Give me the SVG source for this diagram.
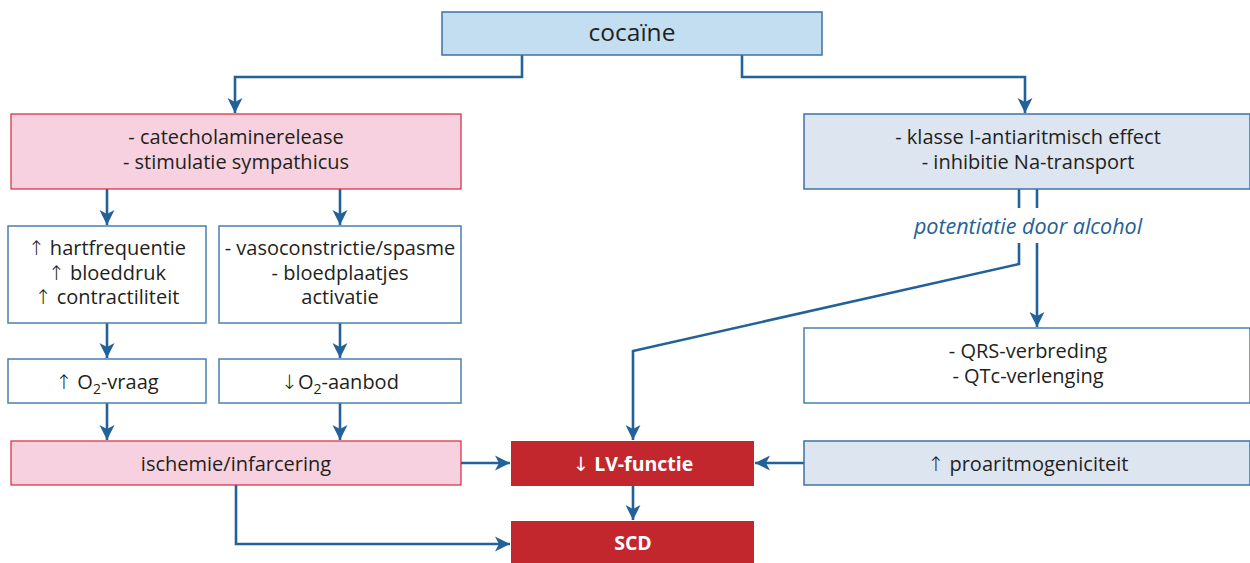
<svg xmlns="http://www.w3.org/2000/svg" width="1250" height="563" viewBox="0 0 1250 563">
<style>
text{font-family:"Open Sans","Noto Sans","Liberation Sans",sans-serif;font-size:20px;fill:#231f20;text-anchor:middle}
.ar{font-family:"DejaVu Sans",sans-serif;font-weight:200}
.arb{font-family:"DejaVu Sans",sans-serif;font-weight:normal}
.big{font-size:24.5px}
.blue{fill:#c3ddf1;stroke:#3f72a3;stroke-width:1.5}
.pale{fill:#dde5f1;stroke:#3f72a3;stroke-width:1.5}
.white{fill:#ffffff;stroke:#4a7fb0;stroke-width:1.5}
.pink{fill:#f7d1df;stroke:#d2283a;stroke-width:1.2}
.red{fill:#c1272d;stroke:none}
.wt{fill:#ffffff;font-weight:bold;font-size:19.5px}
.conn{fill:none;stroke:#236199;stroke-width:2.6}
.lab{fill:#236199;font-style:italic;font-size:21.5px}
.sub{font-size:14px}
</style>
<defs>
<marker id="ah" viewBox="-15 -8 16 16" refX="0" refY="0" markerWidth="16" markerHeight="16" markerUnits="userSpaceOnUse" orient="auto">
<path d="M0,0 L-15,-7.5 L-11,0 L-15,7.5 z" fill="#236199"/>
</marker>
</defs>
<g id="connectors">
<path class="conn" d="M522,55 V77 H235 V113" marker-end="url(#ah)"/>
<path class="conn" d="M742,55 V77 H1025 V113" marker-end="url(#ah)"/>
<path class="conn" d="M107,189 V225" marker-end="url(#ah)"/>
<path class="conn" d="M340,189 V225" marker-end="url(#ah)"/>
<path class="conn" d="M107,323 V358" marker-end="url(#ah)"/>
<path class="conn" d="M340,323 V358" marker-end="url(#ah)"/>
<path class="conn" d="M107,403 V440" marker-end="url(#ah)"/>
<path class="conn" d="M340,403 V440" marker-end="url(#ah)"/>
<path class="conn" d="M461,463 H510" marker-end="url(#ah)"/>
<path class="conn" d="M804,463 H755" marker-end="url(#ah)"/>
<path class="conn" d="M633,486 V520" marker-end="url(#ah)"/>
<path class="conn" d="M236,485 V544 H510" marker-end="url(#ah)"/>
<path class="conn" d="M1019,189 V208"/>
<path class="conn" d="M1037,189 V208"/>
<path class="conn" d="M1019,243 V264 L633,351 V440" marker-end="url(#ah)"/>
<path class="conn" d="M1037,243 V327" marker-end="url(#ah)"/>
<text class="lab" x="1028" y="234">potentiatie door alcohol</text>
</g>
<g id="cocaine">
<rect class="blue" x="442" y="12" width="380" height="43"/>
<text class="big" x="632" y="41">cocaïne</text>
</g>
<g id="catecholamine">
<rect class="pink" x="11" y="114" width="450" height="75"/>
<text x="236" y="144">- catecholaminerelease<tspan x="236" dy="25">- stimulatie sympathicus</tspan></text>
</g>
<g id="klasse">
<rect class="pale" x="804" y="114" width="446" height="75"/>
<text x="1028" y="144">- klasse I-antiaritmisch effect<tspan x="1028" dy="25">- inhibitie Na-transport</tspan></text>
</g>
<g id="hartfrequentie">
<rect class="white" x="8" y="226" width="198" height="97"/>
<text x="107" y="255"><tspan class="ar">↑</tspan> hartfrequentie<tspan x="107" dy="24.5"><tspan class="ar">↑</tspan> bloeddruk</tspan><tspan x="107" dy="24.5"><tspan class="ar">↑</tspan> contractiliteit</tspan></text>
</g>
<g id="vasoconstrictie">
<rect class="white" x="219" y="226" width="242" height="97"/>
<text x="340" y="255">- vasoconstrictie/spasme<tspan x="340" dy="24.5">- bloedplaatjes</tspan><tspan x="340" dy="24.5">activatie</tspan></text>
</g>
<g id="o2vraag">
<rect class="white" x="8" y="359" width="198" height="44"/>
<text x="107" y="389"><tspan class="ar">↑</tspan> O<tspan class="sub" dy="5">2</tspan><tspan dy="-5">-vraag</tspan></text>
</g>
<g id="o2aanbod">
<rect class="white" x="219" y="359" width="242" height="44"/>
<text x="340" y="389"><tspan class="ar">↓</tspan>O<tspan class="sub" dy="5">2</tspan><tspan dy="-5">-aanbod</tspan></text>
</g>
<g id="qrs">
<rect class="white" x="804" y="328" width="446" height="75"/>
<text x="1028" y="358">- QRS-verbreding<tspan x="1028" dy="25">- QTc-verlenging</tspan></text>
</g>
<g id="ischemie">
<rect class="pink" x="11" y="441" width="450" height="44"/>
<text x="236" y="471">ischemie/infarcering</text>
</g>
<g id="lvfunctie">
<rect class="red" x="511" y="441" width="243" height="45"/>
<text class="wt" x="633" y="471"><tspan class="arb">↓</tspan> LV-functie</text>
</g>
<g id="proaritmogeniciteit">
<rect class="pale" x="804" y="441" width="446" height="44"/>
<text x="1028" y="471"><tspan class="ar">↑</tspan> proaritmogeniciteit</text>
</g>
<g id="scd">
<rect class="red" x="511" y="521" width="243" height="42"/>
<text class="wt" x="633" y="550">SCD</text>
</g>
</svg>
